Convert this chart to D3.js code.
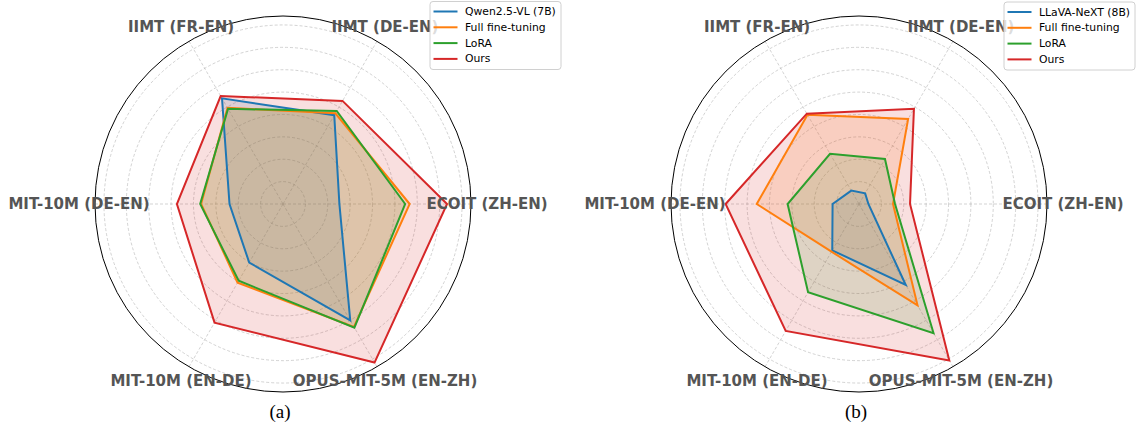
<!DOCTYPE html>
<html>
<head>
<meta charset="utf-8">
<script src="https://cdn.jsdelivr.net/npm/d3@7"></script>
<style>
  html, body { margin: 0; padding: 0; background: #fff; }
  svg { display: block; }
</style>
</head>
<body>
<svg id="chart" width="1136" height="425"></svg>
<script>
// ---- data ----
const categories = ["ECOIT (ZH-EN)", "IIMT (DE-EN)", "IIMT (FR-EN)", "MIT-10M (DE-EN)", "MIT-10M (EN-DE)", "OPUS-MIT-5M (EN-ZH)"];
const gridTicks = [10, 20, 30, 40, 50, 60, 70, 80];
const rMaxValue = 84;

const seriesNamesA = ["Qwen2.5-VL (7B)", "Full fine-tuning", "LoRA", "Ours"];
const qwenA  = [25.2, 45.8, 54.5, 23.9, 30.2, 60.1];
const fullA  = [56.6, 46.8, 49.6, 36.6, 40.6, 63.4];
const loraA  = [54.6, 48.0, 49.1, 37.0, 39.6, 63.8];
const oursA  = [73.3, 53.2, 55.7, 47.4, 61.2, 81.8];

const seriesNamesB = ["LLaVA-NeXT (8B)", "Full fine-tuning", "LoRA", "Ours"];
const llavaB = [4.2, 5.5, 6.9, 11.8, 23.9, 41.8];
const fullB  = [15.2, 43.9, 46.0, 45.7, 24.6, 52.3];
const loraB  = [16.1, 23.2, 25.9, 31.9, 45.5, 66.6];
const oursB  = [22.8, 49.1, 46.6, 59.6, 65.5, 80.7];

const colors = ["#1f77b4", "#ff7f0e", "#2ca02c", "#d62728"];
const captions = ["(a)", "(b)"];

// ---- drawing ----
const svg = d3.select("#chart");

function drawRadar(cx, cy, R, names, seriesList, legendX, legendY, caption) {
  const g = svg.append("g").attr("transform", `translate(${cx},${cy})`);
  const r = d3.scaleLinear().domain([0, rMaxValue]).range([0, R]);
  const angle = d3.scaleLinear().domain([0, categories.length]).range([0, 2 * Math.PI]);
  const radialAngle = i => Math.PI / 2 - angle(i);

  g.selectAll("circle.grid").data(gridTicks).enter().append("circle")
    .attr("r", d => r(d))
    .attr("fill", "none")
    .attr("stroke", "#b0b0b0")
    .attr("stroke-opacity", 0.7)
    .attr("stroke-width", 0.8)
    .attr("stroke-dasharray", "3,2");

  g.selectAll("line.spoke").data(categories).enter().append("line")
    .attr("x1", 0).attr("y1", 0)
    .attr("x2", (d, i) => r(rMaxValue) * Math.cos(angle(i)))
    .attr("y2", (d, i) => -r(rMaxValue) * Math.sin(angle(i)))
    .attr("stroke", "#b0b0b0")
    .attr("stroke-opacity", 0.7)
    .attr("stroke-width", 0.8)
    .attr("stroke-dasharray", "3,2");

  const line = d3.lineRadial()
    .angle((d, i) => radialAngle(i))
    .radius(d => r(d))
    .curve(d3.curveLinearClosed);

  seriesList.forEach((vals, k) => {
    g.append("path").attr("d", line(vals))
      .attr("fill", colors[k])
      .attr("fill-opacity", 0.15)
      .attr("stroke", "none");
  });
  seriesList.forEach((vals, k) => {
    g.append("path").attr("d", line(vals))
      .attr("fill", "none")
      .attr("stroke", colors[k])
      .attr("stroke-width", 2)
      .attr("stroke-linejoin", "miter");
  });

  g.append("circle").attr("r", r(rMaxValue))
    .attr("fill", "none").attr("stroke", "#000").attr("stroke-width", 1);

  const labelR = R + 16;
  g.selectAll("text.cat").data(categories).enter().append("text")
    .attr("x", (d, i) => labelR * Math.cos(angle(i)))
    .attr("y", (d, i) => -labelR * Math.sin(angle(i)))
    .attr("text-anchor", "middle")
    .attr("dominant-baseline", "central")
    .attr("font-family", "DejaVu Sans")
    .attr("font-weight", "bold")
    .attr("font-size", 15)
    .attr("fill", "#555555")
    .text(d => d);

  svg.append("text")
    .attr("x", cx - 3).attr("y", 418)
    .attr("text-anchor", "middle")
    .attr("font-family", "Liberation Serif")
    .attr("font-size", 19)
    .attr("fill", "#000")
    .text(caption);

  const lg = svg.append("g").attr("transform", `translate(${legendX},${legendY})`);
  lg.append("rect").attr("x", 0).attr("y", 0)
    .attr("width", 131).attr("height", 68)
    .attr("rx", 3).attr("ry", 3)
    .attr("fill", "#fff").attr("fill-opacity", 0.8)
    .attr("stroke", "#d0d0d0").attr("stroke-width", 1);
  names.forEach((n, k) => {
    const y = 10 + k * 15.8;
    lg.append("line").attr("x1", 3.5).attr("x2", 27.5)
      .attr("y1", y).attr("y2", y)
      .attr("stroke", colors[k]).attr("stroke-width", 2);
    lg.append("text").attr("x", 35).attr("y", y)
      .attr("dominant-baseline", "central")
      .attr("font-family", "DejaVu Sans")
      .attr("font-size", 10.8)
      .attr("fill", "#000")
      .text(n);
  });
}

drawRadar(283, 204, 188, seriesNamesA, [qwenA, fullA, loraA, oursA], 430, 1.5, captions[0]);
drawRadar(859, 204, 188, seriesNamesB, [llavaB, fullB, loraB, oursB], 1004, 2, captions[1]);
</script>
</body>
</html>
